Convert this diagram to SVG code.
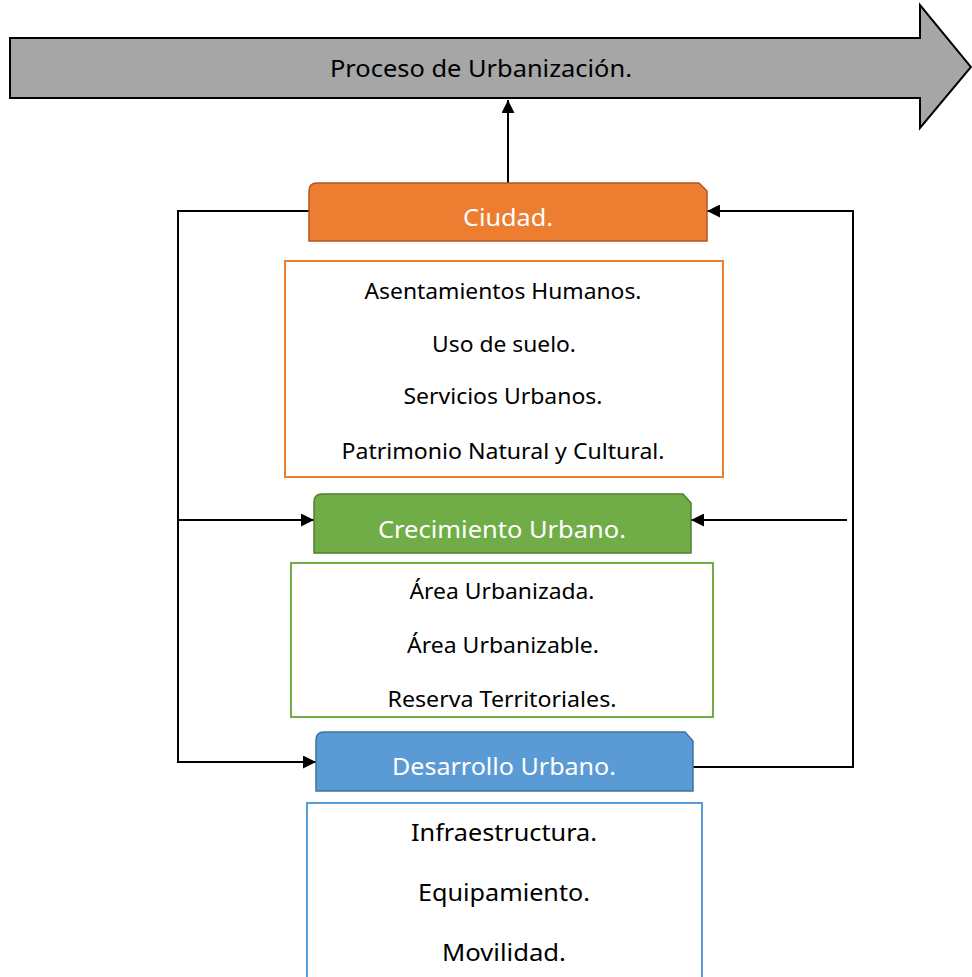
<svg xmlns="http://www.w3.org/2000/svg" width="972" height="977" viewBox="0 0 972 977">
<style>
text{font-family:"Noto Sans","Open Sans","Liberation Sans",sans-serif;text-anchor:middle}
.w{fill:#fff;font-size:24px}
.b{fill:#000;font-size:21px}
.b2{fill:#000;font-size:24px}
.conn path{fill:none;stroke:#000;stroke-width:2}
.list{fill:#fff;stroke-width:2}
</style>
<defs>
<marker id="ah" viewBox="0 0 10 10" refX="10" refY="5" markerWidth="13" markerHeight="13" markerUnits="userSpaceOnUse" orient="auto">
<path d="M0,0 L10,5 L0,10 Z" fill="#000"/>
</marker>
</defs>
<g id="proceso">
<path d="M10,38 H920 V5 L971,67 L920,128 V98 H10 Z" fill="#a6a6a6" stroke="#000" stroke-width="2"/>
<text x="481" y="77" style="font-size:24px" textLength="302" lengthAdjust="spacingAndGlyphs">Proceso de Urbanización.</text>
</g>
<g class="conn" id="connectors">
<path d="M508,183 V100" marker-end="url(#ah)"/>
<path d="M309,211 H178 V762 H316" marker-end="url(#ah)"/>
<path d="M178,520 H314" marker-end="url(#ah)"/>
<path d="M693,767 H853 V211 H707" marker-end="url(#ah)"/>
<path d="M847,520 H691" marker-end="url(#ah)"/>
</g>
<g id="ciudad">
<path d="M317,183 H699 L707,191 V241 H309 V191 Q309,183 317,183 Z" fill="#ed7d31" stroke="#ae5a21" stroke-width="1.5"/>
<text class="w" x="508" y="226" textLength="90" lengthAdjust="spacingAndGlyphs">Ciudad.</text>
</g>
<g id="ciudad-list">
<rect class="list" x="285" y="261" width="438" height="216" stroke="#ed7d31"/>
<text class="b" x="503" y="299" textLength="277" lengthAdjust="spacingAndGlyphs">Asentamientos Humanos.</text>
<text class="b" x="504" y="352" textLength="144" lengthAdjust="spacingAndGlyphs">Uso de suelo.</text>
<text class="b" x="503" y="404" textLength="199" lengthAdjust="spacingAndGlyphs">Servicios Urbanos.</text>
<text class="b" x="503" y="459" textLength="323" lengthAdjust="spacingAndGlyphs">Patrimonio Natural y Cultural.</text>
</g>
<g id="crecimiento">
<path d="M322,494 H683 L691,503 V553 H314 V502 Q314,494 322,494 Z" fill="#70ad47" stroke="#507e32" stroke-width="1.5"/>
<text class="w" x="502" y="538" textLength="248" lengthAdjust="spacingAndGlyphs">Crecimiento Urbano.</text>
</g>
<g id="crecimiento-list">
<rect class="list" x="291" y="563" width="422" height="154" stroke="#70ad47"/>
<text class="b" x="502" y="599" textLength="185" lengthAdjust="spacingAndGlyphs">Área Urbanizada.</text>
<text class="b" x="503" y="653" textLength="192" lengthAdjust="spacingAndGlyphs">Área Urbanizable.</text>
<text class="b" x="502" y="707" textLength="229" lengthAdjust="spacingAndGlyphs">Reserva Territoriales.</text>
</g>
<g id="desarrollo">
<path d="M324,732 H685 L693,741 V791 H316 V740 Q316,732 324,732 Z" fill="#5b9bd5" stroke="#41719c" stroke-width="1.5"/>
<text class="w" x="504" y="775" textLength="224" lengthAdjust="spacingAndGlyphs">Desarrollo Urbano.</text>
</g>
<g id="desarrollo-list">
<rect class="list" x="307" y="803" width="395" height="180" stroke="#5b9bd5"/>
<text class="b2" x="504" y="841" textLength="186" lengthAdjust="spacingAndGlyphs">Infraestructura.</text>
<text class="b2" x="504" y="901" textLength="172" lengthAdjust="spacingAndGlyphs">Equipamiento.</text>
<text class="b2" x="504" y="961" textLength="124" lengthAdjust="spacingAndGlyphs">Movilidad.</text>
</g>
</svg>
